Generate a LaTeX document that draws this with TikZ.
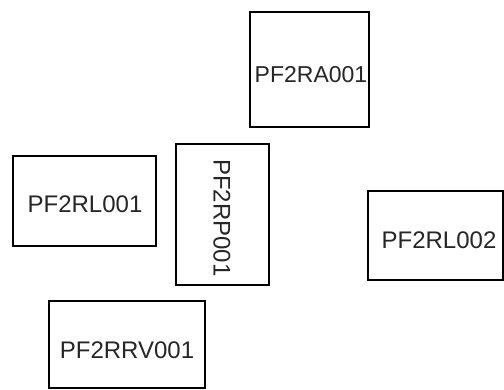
\documentclass[tikz,border=0pt]{standalone}
\usepackage{fontspec}
\setmainfont{Liberation Sans}
\begin{document}
\begin{tikzpicture}[x=1pt,y=-1pt,
  boxstyle/.style={draw=black,line width=2.6pt,fill=white},
  lbl/.style={text=black!85,font=\fontsize{24}{26}\selectfont,inner sep=0pt}]
\useasboundingbox (0,0) rectangle (504,390);
\fill[white] (0,0) rectangle (504,390);
\draw[boxstyle] (250,12) rectangle (369,127);
\node[lbl,font=\fontsize{23}{25}\selectfont] (ra) at (311,75) {PF2RA001};
\draw[boxstyle] (13,156) rectangle (156,246);
\node[lbl] (rl1) at (85,204) {PF2RL001};
\draw[boxstyle] (176,144) rectangle (269,285);
\node[lbl,rotate=-90] (rp) at (222,218) {PF2RP001};
\draw[boxstyle] (368,191) rectangle (503,280);
\node[lbl] (rl2) at (439,240) {PF2RL002};
\draw[boxstyle] (49,301) rectangle (205,388);
\node[lbl] (rrv) at (127,350) {PF2RRV001};
\end{tikzpicture}
\end{document}
